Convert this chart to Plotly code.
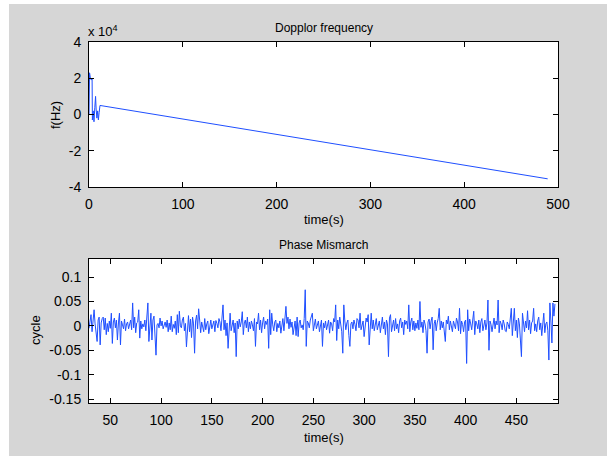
import numpy as np
import plotly.graph_objects as go

# ---------------------------------------------------------------- data
# Doppler frequency (Hz) vs time (s): short transient, then a linear drift
DOP_T = [0, 0.3, 0.6, 1.5, 2.5, 3.3, 3.6, 4.5, 5.3, 6.2, 7.0, 7.6, 8.4, 9.2,
         10.0, 10.8, 11.7, 489]
DOP_F = [0.0, 1.0e4, 2.3e4, 2.0e4, 1.9e4, 2.0e4, -0.3e4, 0.2e4, -0.4e4, 0.4e4,
         1.0e4, 0.3e4, -0.2e4, 0.2e4, -0.3e4, 0.1e4, 0.5e4, -3.55e4]

# Phase mismatch (cycle), one sample per second from t = 29 s
PH_T0 = 29
PHASE = [
    -0.005, 0.008, 0.023, -0.012, 0.010, 0.033, 0.004, -0.015, -0.032, 0.012, 0.018, -0.039, 0.006, 0.015, 0.018, -0.008, 0.016, -0.018, 0.005, -0.012,
    0.010, -0.005, 0.026, -0.036, 0.008, 0.016, -0.004, 0.012, -0.029, 0.006, 0.026, -0.039, 0.010, 0.002, -0.006, 0.014, -0.010, 0.004, 0.008, -0.006,
    0.003, 0.012, -0.008, 0.047, -0.004, 0.018, -0.014, 0.006, 0.008, 0.033, -0.025, 0.010, -0.006, 0.004, -0.002, 0.012, -0.010, 0.015, 0.047, -0.032,
    0.006, 0.026, -0.029, 0.012, 0.020, -0.010, -0.060, 0.002, 0.005, -0.004, 0.016, 0.000, 0.010, -0.006, 0.004, 0.008, -0.003, 0.012, -0.012, 0.006,
    -0.008, 0.020, -0.012, 0.003, -0.005, 0.010, -0.018, 0.023, -0.014, 0.030, 0.000, -0.004, 0.012, 0.018, -0.010, 0.005, -0.043, 0.008, 0.021, -0.012,
    0.014, -0.024, 0.018, 0.004, -0.056, 0.010, 0.022, -0.006, 0.035, 0.012, -0.014, 0.008, 0.000, -0.012, 0.015, -0.008, 0.004, 0.010, -0.016, 0.006,
    0.012, -0.006, 0.002, 0.010, -0.012, 0.011, 0.005, -0.004, 0.015, 0.008, -0.010, 0.018, 0.043, -0.008, 0.012, -0.020, 0.006, -0.046, 0.010, 0.026,
    -0.010, 0.004, 0.012, -0.014, 0.006, -0.063, 0.010, -0.006, 0.014, -0.002, 0.008, 0.029, -0.018, 0.006, 0.012, -0.004, 0.018, -0.012, 0.008, -0.006,
    0.010, 0.002, -0.010, 0.015, -0.042, 0.008, 0.004, 0.026, -0.008, 0.012, -0.014, 0.006, 0.018, -0.006, 0.010, 0.003, 0.014, -0.046, 0.033, -0.018,
    0.026, 0.002, -0.010, 0.008, 0.012, -0.012, 0.005, -0.004, 0.010, -0.015, 0.008, 0.015, -0.010, 0.012, 0.040, 0.005, 0.018, -0.006, 0.014, -0.003,
    0.008, -0.018, 0.004, 0.010, -0.020, 0.018, -0.022, 0.006, 0.012, -0.004, 0.002, -0.008, 0.015, 0.074, -0.042, 0.010, 0.006, -0.004, 0.012, 0.018,
    0.026, -0.010, 0.008, 0.014, -0.006, 0.002, 0.010, -0.012, 0.004, 0.012, -0.042, 0.006, -0.004, 0.010, -0.008, 0.003, 0.012, -0.015, 0.008, 0.004,
    -0.010, 0.015, 0.008, 0.043, -0.030, 0.012, -0.006, 0.018, 0.004, -0.012, -0.056, 0.043, 0.010, -0.008, 0.006, 0.012, -0.020, -0.042, 0.004, 0.008,
    -0.006, 0.012, 0.003, -0.010, 0.015, 0.012, -0.004, 0.026, -0.008, 0.006, 0.010, -0.022, 0.004, 0.016, 0.008, 0.023, -0.039, 0.010, 0.026, -0.006,
    0.012, -0.010, 0.004, 0.015, -0.008, 0.006, 0.010, -0.014, 0.002, 0.018, -0.006, 0.008, -0.018, 0.012, 0.004, -0.063, 0.016, 0.023, -0.012, 0.006,
    0.012, -0.010, 0.015, -0.006, 0.004, -0.014, 0.010, 0.016, -0.004, 0.008, -0.018, 0.012, 0.003, 0.010, -0.006, 0.043, -0.012, 0.008, 0.016, -0.008,
    0.010, -0.010, 0.006, -0.005, 0.012, -0.008, 0.050, -0.003, 0.008, -0.014, 0.012, 0.004, -0.010, -0.056, 0.008, 0.014, -0.006, 0.010, 0.018, -0.049,
    0.004, 0.012, -0.010, 0.006, 0.015, 0.036, -0.008, 0.010, -0.004, 0.008, -0.014, -0.032, 0.012, 0.004, 0.020, -0.008, 0.010, 0.002, -0.012, 0.010,
    0.004, -0.006, 0.016, 0.008, -0.010, 0.036, -0.016, 0.010, 0.003, -0.012, 0.008, 0.012, -0.077, 0.033, -0.010, 0.014, 0.004, -0.008, 0.012, 0.030,
    -0.018, 0.010, 0.004, -0.006, 0.012, -0.014, 0.008, 0.015, -0.010, 0.004, 0.012, -0.008, 0.006, 0.053, -0.050, 0.010, 0.003, -0.012, 0.008, 0.016,
    -0.006, 0.010, 0.002, 0.053, -0.014, 0.010, 0.004, -0.008, 0.012, 0.004, -0.010, -0.012, 0.008, 0.003, -0.006, 0.012, 0.036, -0.020, 0.006, 0.036,
    -0.010, 0.012, -0.024, 0.016, 0.004, -0.030, -0.063, 0.026, 0.008, -0.012, 0.010, -0.004, 0.031, -0.008, 0.012, -0.016, 0.006, 0.010, 0.036, -0.010,
    0.004, -0.012, 0.010, 0.018, -0.008, 0.006, -0.020, 0.012, 0.026, -0.014, 0.004, 0.008, -0.010, -0.070, 0.047, 0.010, -0.035, 0.047, 0.020, 0.045,
]
PH_T = np.arange(PH_T0, PH_T0 + len(PHASE))

TOP_YTICKS = [-4e4, -2e4, 0, 2e4, 4e4]
TOP_YTEXT = ["-4", "-2", "0", "2", "4"]
BOT_YTICKS = [-0.15, -0.1, -0.05, 0, 0.05, 0.1]
BOT_YTEXT = ["-0.15", "-0.1", "-0.05", "0", "0.05", "0.1"]

# ---------------------------------------------------------------- figure
W, H = 607, 456
BLUE = "#1f4fff"
GREY = "#d6d6d6"
FONT = "Liberation Sans, Arial, sans-serif"


def px(x):
    return x / W


def py(y):
    return 1 - y / H


fig = go.Figure()
fig.add_trace(go.Scatter(x=DOP_T, y=DOP_F, mode="lines", xaxis="x", yaxis="y",
                         line=dict(color=BLUE, width=1), showlegend=False))
fig.add_trace(go.Scatter(x=PH_T, y=PHASE, mode="lines", xaxis="x2", yaxis="y2",
                         line=dict(color=BLUE, width=1), showlegend=False))

ax = dict(showline=True, linecolor="black", linewidth=1, mirror="ticks", ticks="inside",
          ticklen=5, tickcolor="black", showgrid=False, zeroline=False, automargin=False,
          tickfont=dict(family=FONT, size=14, color="black"), ticklabelstandoff=4)

fig.update_layout(
    template="none", width=W, height=H, autosize=False,
    margin=dict(l=0, r=0, t=0, b=0, pad=0),
    paper_bgcolor=GREY, plot_bgcolor="white", showlegend=False,
    xaxis=dict(ax, domain=[px(89), px(558)], anchor="y", range=[0, 500],
               tickvals=[0, 100, 200, 300, 400, 500]),
    yaxis=dict(ax, domain=[py(187), py(42)], anchor="x", range=[-4e4, 4e4],
               tickvals=TOP_YTICKS, ticktext=TOP_YTEXT),
    xaxis2=dict(ax, domain=[px(89), px(558)], anchor="y2", range=[29, 491],
                tickvals=[50, 100, 150, 200, 250, 300, 350, 400, 450]),
    yaxis2=dict(ax, domain=[py(403), py(259)], anchor="x2", range=[-0.158, 0.137],
                tickvals=BOT_YTICKS, ticktext=BOT_YTEXT),
    # white strips along the left and top edges of the screenshot
    shapes=[dict(type="rect", xref="paper", yref="paper", x0=0, x1=px(9), y0=0, y1=1,
                 fillcolor="white", line=dict(width=0), layer="below"),
            dict(type="rect", xref="paper", yref="paper", x0=0, x1=1, y0=py(4), y1=1,
                 fillcolor="white", line=dict(width=0), layer="below")],
)


def label(text, x, y, size=13, angle=0, xanchor="center"):
    fig.add_annotation(text=text, x=px(x), y=py(y), xref="paper", yref="paper",
                       showarrow=False, textangle=angle, xanchor=xanchor, yanchor="middle",
                       font=dict(family=FONT, size=size, color="black"))


label("Dopplor frequency", 323.5, 28, size=12)
label("x 10<sup>4</sup>", 86, 31, size=13, xanchor="left")
label("time(s)", 323.5, 220)
label("f(Hz)", 55, 115, angle=-90)
label("Phase Mismarch", 323.5, 245, size=12)
label("time(s)", 323.5, 437)
label("cycle", 35, 330, angle=-90)

PAGE_JS = ("document.documentElement.style.overflow='hidden';"
           "document.body.style.margin='0px';document.body.style.overflow='hidden';")
fig.write_html("out.html", config={"displayModeBar": False, "responsive": False},
               post_script=PAGE_JS)
